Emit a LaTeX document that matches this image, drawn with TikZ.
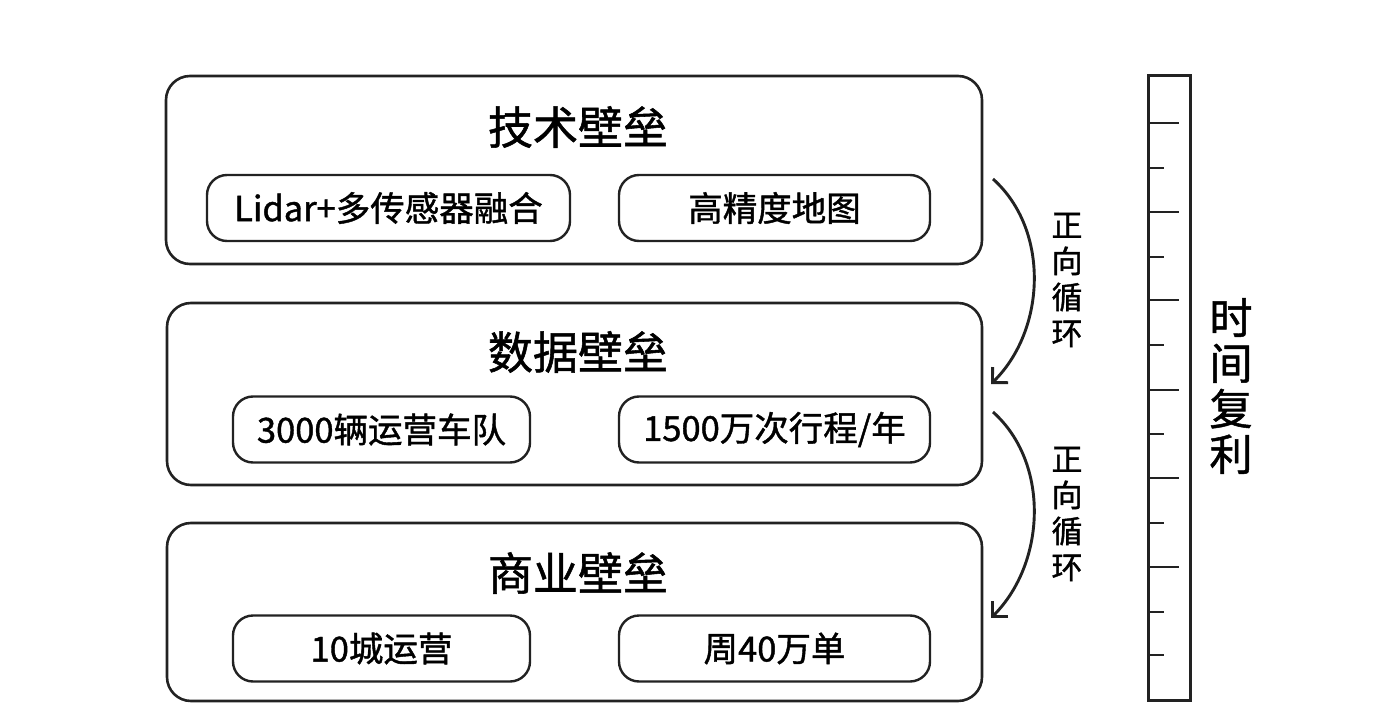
\documentclass[tikz,border=0pt]{standalone}
\usepackage{fontspec}
\setmainfont{Noto Sans CJK SC}[FakeBold=1.2]
\usetikzlibrary{arrows.meta}
\definecolor{ink}{HTML}{222222}
\begin{document}
\begin{tikzpicture}[x=1pt,y=-1pt,
  bigbox/.style={draw=ink, line width=2.6pt, rounded corners=24pt, inner sep=0pt},
  subbox/.style={draw=ink, line width=2.4pt, rounded corners=20pt, inner sep=0pt, minimum height=66pt, font=\fontsize{34.5}{38}\selectfont},
  titletext/.style={inner sep=0pt, font=\fontsize{45}{49}\selectfont},
  looptext/.style={inner sep=0pt, align=center, font=\fontsize{31}{36}\selectfont},
  timetext/.style={inner sep=0pt, align=center, font=\fontsize{43}{45.5}\selectfont},
  flow/.style={draw=ink, line width=2.9pt, -{Straight Barb[length=11pt,width=22pt]}},
  ruler/.style={draw=ink, line width=3pt},
  tick/.style={draw=ink, line width=2.6pt}
]
\useasboundingbox (0,0) rectangle (1376,706);
\fill[white] (0,0) rectangle (1376,706);

% big boxes
\node[bigbox, minimum width=816pt, minimum height=188pt] (tech) at (574,170) {};
\node[bigbox, minimum width=815pt, minimum height=182pt] (data) at (574.5,394) {};
\node[bigbox, minimum width=815pt, minimum height=178pt] (biz) at (574.5,612) {};

% titles
\node[titletext] (techT) at (578,127) {技术壁垒};
\node[titletext] (dataT) at (578,352) {数据壁垒};
\node[titletext] (bizT) at (578,573) {商业壁垒};

% sub boxes
\node[subbox, minimum width=363pt] (lidar) at (388.5,208) {Lidar+多传感器融合};
\node[subbox, minimum width=311pt] (map) at (774.5,208) {高精度地图};
\node[subbox, minimum width=297pt] (fleet) at (381.5,429.5) {3000辆运营车队};
\node[subbox, minimum width=311pt] (trips) at (774.5,429.5) {1500万次行程/年};
\node[subbox, minimum width=297pt] (city) at (381.5,648.5) {10城运营};
\node[subbox, minimum width=311pt] (orders) at (774.5,648.5) {周40万单};

% loop arrows
\coordinate (a1s) at (993,179);
\coordinate (a1e) at (991,384);
\coordinate (a2s) at (993,412);
\coordinate (a2e) at (991,618);
\draw[flow] (a1s) .. controls (1050,230) and (1046,330) .. (a1e);
\draw[flow] (a2s) .. controls (1050,463) and (1046,563) .. (a2e);
\node[looptext] (loop1) at (1067,280) {正\\向\\循\\环};
\node[looptext] (loop2) at (1067,514) {正\\向\\循\\环};

% time ruler
\draw[ruler] (1148,76) rectangle (1190,700);
\foreach \y in {123,212,300,390,478,567} \draw[tick] (1150,\y) -- (1179,\y);
\foreach \y in {168,257,345,434,523,612,655} \draw[tick] (1150,\y) -- (1164,\y);
\node[timetext] (time) at (1231,386) {时\\间\\复\\利};
\end{tikzpicture}
\end{document}
